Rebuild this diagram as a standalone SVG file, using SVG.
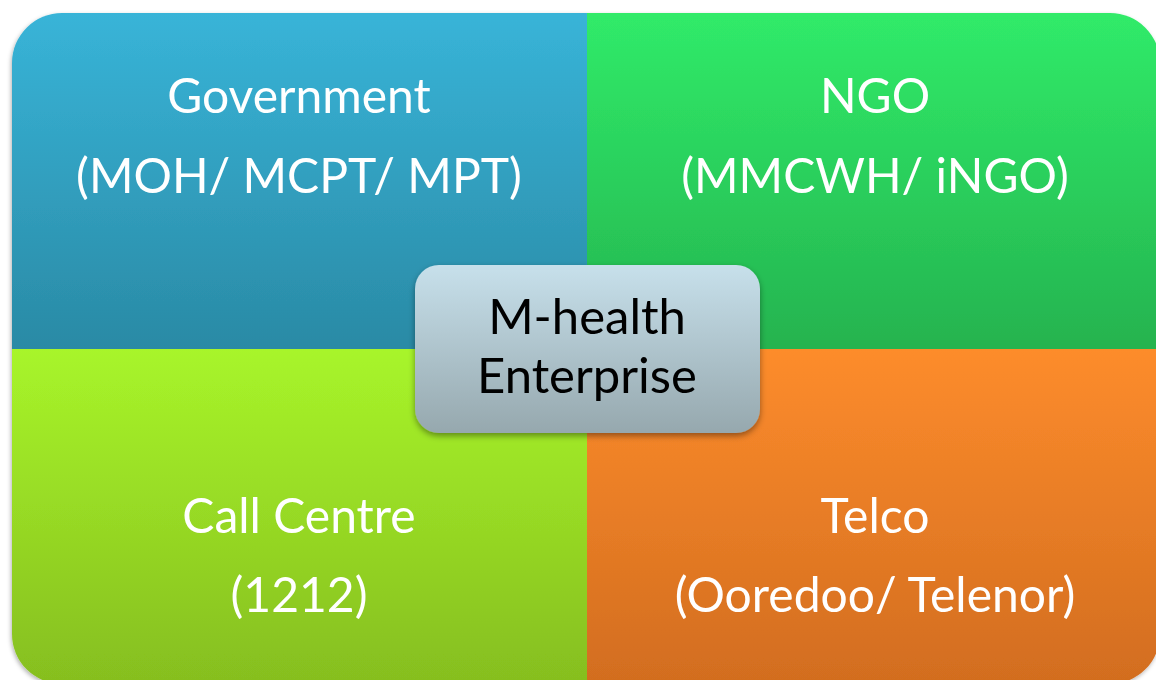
<svg xmlns="http://www.w3.org/2000/svg" width="1156" height="680" viewBox="0 0 1156 680">
<defs>
<linearGradient id="gBlue" x1="0" y1="0" x2="0" y2="1"><stop offset="0" stop-color="#38b4d8"/><stop offset="1" stop-color="#2a8aa5"/></linearGradient>
<linearGradient id="gGreen" x1="0" y1="0" x2="0" y2="1"><stop offset="0" stop-color="#30eb69"/><stop offset="1" stop-color="#25b34f"/></linearGradient>
<linearGradient id="gLime" x1="0" y1="0" x2="0" y2="1"><stop offset="0" stop-color="#a8f52a"/><stop offset="1" stop-color="#86be1f"/></linearGradient>
<linearGradient id="gOrange" x1="0" y1="0" x2="0" y2="1"><stop offset="0" stop-color="#fd8c2c"/><stop offset="1" stop-color="#d26d1f"/></linearGradient>
<linearGradient id="gCenter" x1="0" y1="0" x2="0" y2="1"><stop offset="0" stop-color="#c7e0eb"/><stop offset="1" stop-color="#96a8ae"/></linearGradient>
<filter id="sh" x="-10%" y="-10%" width="120%" height="130%"><feDropShadow dx="-1" dy="2" stdDeviation="2" flood-color="#000" flood-opacity="0.3"/></filter>
<filter id="shC" x="-10%" y="-10%" width="120%" height="130%"><feDropShadow dx="0" dy="3" stdDeviation="3" flood-color="#000" flood-opacity="0.4"/></filter>
</defs>
<style>
.lbl{font-family:Lato,"Open Sans","Liberation Sans",sans-serif;font-size:48px;fill:#ffffff;text-anchor:middle}
.ctr{font-family:Lato,"Open Sans","Liberation Sans",sans-serif;font-size:49px;fill:#000000;text-anchor:middle}
</style>
<rect width="1156" height="680" fill="#ffffff"/>
<g id="quadrants" filter="url(#sh)">
<g id="government">
<path d="M12,349 V63 A50,50 0 0 1 62,13 H587 V349 Z" fill="url(#gBlue)"/>
<text class="lbl" x="299" y="113">Government</text>
<text class="lbl" x="299" y="193">(MOH/ MCPT/ MPT)</text>
</g>
<g id="ngo">
<path d="M587,13 H1110 A50,50 0 0 1 1160,63 V349 H587 Z" fill="url(#gGreen)"/>
<text class="lbl" x="875" y="113">NGO</text>
<text class="lbl" x="875" y="193">(MMCWH/ iNGO)</text>
</g>
<g id="callcentre">
<path d="M12,349 H587 V684 H62 A50,50 0 0 1 12,634 Z" fill="url(#gLime)"/>
<text class="lbl" x="299" y="533">Call Centre</text>
<text class="lbl" x="299" y="612">(1212)</text>
</g>
<g id="telco">
<path d="M587,349 H1160 V634 A50,50 0 0 1 1110,684 H587 Z" fill="url(#gOrange)"/>
<text class="lbl" x="875" y="533">Telco</text>
<text class="lbl" x="875" y="612">(Ooredoo/ Telenor)</text>
</g>
</g>
<g id="connectors"/>
<g id="mhealth">
<rect x="415" y="265" width="345" height="168" rx="24" fill="url(#gCenter)" filter="url(#shC)"/>
<text class="ctr" x="587" y="334">M-health</text>
<text class="ctr" x="587" y="393">Enterprise</text>
</g>
</svg>
